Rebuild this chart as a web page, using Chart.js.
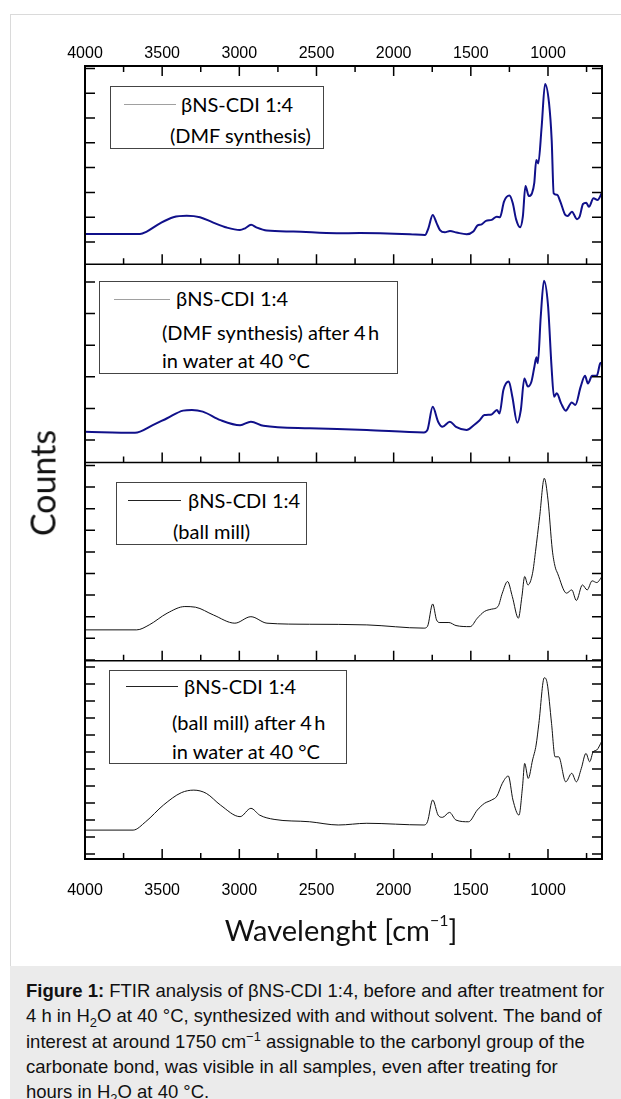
<!DOCTYPE html>
<html>
<head>
<meta charset="utf-8">
<script src="https://cdn.jsdelivr.net/npm/chart.js@4"></script>
<style>
  body { margin: 0; width: 621px; height: 1099px; position: relative; overflow: hidden; background: #fff; font-family: "Liberation Sans", Arial, sans-serif; }
  #frame { position: absolute; left: 10px; top: 14px; width: 620px; height: 952px; border-left: 1px solid #dadada; border-top: 1px solid #dadada; }
  #chart { position: absolute; left: 0; top: 0; }
  .legend { position: absolute; border: 1px solid #444; background: #fff; font-family: Lato, sans-serif; font-size: 20px; color: #000; }
  .legend .sample { position: absolute; height: 0; border-top: 1px solid #a0a0a0; }
  .legend .dark { border-top-color: #222; }
  .legend span { position: absolute; white-space: nowrap; line-height: 24px; }
  .title { position: absolute; font-family: Lato, sans-serif; color: #111; white-space: nowrap; transform: translate(-50%, -50%); }
  .title sup { font-size: 0.55em; vertical-align: 0.9em; line-height: 0; }
  #caption { position: absolute; left: 10px; top: 966px; width: 595px; height: 121px; padding: 12px 0 0 16px; background: #ebebeb; font-size: 18.5px; line-height: 25.3px; color: #111; white-space: nowrap; }
  #caption sub, #caption sup { font-size: 0.7em; line-height: 0; }
</style>
</head>
<body>
<div id="frame"></div>
<canvas id="chart" width="621" height="960"></canvas>

<div class="legend" style="left:110px;top:86px;width:212px;height:61px">
  <div class="sample" style="left:13px;top:17px;width:52px"></div>
  <span style="left:70px;top:5px">βNS-CDI 1:4</span>
  <span style="left:59px;top:36px">(DMF synthesis)</span>
</div>
<div class="legend" style="left:99px;top:281px;width:297px;height:91px">
  <div class="sample" style="left:14px;top:17px;width:56px"></div>
  <span style="left:76px;top:4px">βNS-CDI 1:4</span>
  <span style="left:62px;top:38px">(DMF synthesis) after 4&#8201;h</span>
  <span style="left:62px;top:66px">in water at 40 °C</span>
</div>
<div class="legend" style="left:116px;top:482px;width:189px;height:61px">
  <div class="sample dark" style="left:11px;top:17px;width:53px"></div>
  <span style="left:71px;top:5px">βNS-CDI 1:4</span>
  <span style="left:56px;top:36px">(ball mill)</span>
</div>
<div class="legend" style="left:109px;top:670px;width:236px;height:92px">
  <div class="sample dark" style="left:16px;top:15px;width:52px"></div>
  <span style="left:74px;top:3px">βNS-CDI 1:4</span>
  <span style="left:62px;top:39px">(ball mill) after 4&#8201;h</span>
  <span style="left:62px;top:68px">in water at 40 °C</span>
</div>

<div class="title" style="left:42px;top:483px;font-size:34px;transform:translate(-50%,-50%) rotate(-90deg)">Counts</div>
<div class="title" style="left:341px;top:929px;font-size:29px">Wavelenght [cm<sup>−1</sup>]</div>

<div id="caption"><b>Figure 1:</b> FTIR analysis of βNS-CDI 1:4, before and after treatment for<br>4 h in H<sub>2</sub>O at 40 °C, synthesized with and without solvent. The band of<br>interest at around 1750 cm<sup>−1</sup> assignable to the carbonyl group of the<br>carbonate bond, was visible in all samples, even after treating for<br>hours in H<sub>2</sub>O at 40 °C.</div>

<script>
// x axis (wavenumber, cm-1)
const X_TICK_LABELS = [4000, 3500, 3000, 2500, 2000, 1500, 1000]
const X_MINOR_TICKS = [3750, 3250, 2750, 2250, 1750, 1250, 750]

// DMF synthesis
const dmfWavenumbers = [4000, 3644, 3600, 3514, 3428, 3341, 3255, 3169, 3082, 2996, 2963, 2924, 2887, 2822, 2650, 2369, 2218, 2088, 1894, 1797, 1775, 1747, 1721, 1700, 1668, 1635, 1592, 1527, 1484, 1458, 1430, 1402, 1365, 1332, 1311, 1285, 1250, 1228, 1207, 1181, 1163, 1146, 1124, 1104, 1089, 1076, 1063, 1041, 1019, 993, 976, 963, 941, 920, 888, 873, 845, 812, 795, 773, 752, 735, 705, 679, 650]
const dmfCounts = [0.32, 0.32, 0.42, 0.75, 1.00, 1.06, 1.00, 0.78, 0.58, 0.48, 0.55, 0.69, 0.58, 0.46, 0.42, 0.35, 0.36, 0.35, 0.31, 0.28, 0.55, 1.09, 0.75, 0.48, 0.39, 0.44, 0.38, 0.31, 0.42, 0.66, 0.71, 0.85, 0.89, 1.02, 1.00, 1.63, 1.87, 1.56, 0.92, 0.59, 1.02, 2.26, 1.85, 1.96, 2.37, 3.31, 3.17, 4.65, 6.37, 5.59, 4.11, 1.96, 1.90, 1.63, 1.09, 1.05, 1.22, 0.92, 1.02, 1.53, 1.58, 1.42, 1.76, 1.69, 1.99]

// DMF synthesis, after 4 h in water at 40 °C
const dmfWaterWavenumbers = [4000, 3676, 3561, 3468, 3364, 3307, 3237, 3122, 2995, 2925, 2844, 2544, 2174, 1804, 1781, 1747, 1712, 1684, 1636, 1596, 1527, 1481, 1446, 1412, 1365, 1331, 1314, 1289, 1254, 1231, 1199, 1176, 1153, 1130, 1107, 1088, 1075, 1066, 1047, 1026, 1000, 977, 961, 943, 915, 885, 846, 823, 788, 760, 741, 714, 684, 661, 650]
const dmfWaterCounts = [0.26, 0.23, 0.47, 0.69, 0.93, 0.95, 0.90, 0.63, 0.47, 0.58, 0.45, 0.37, 0.32, 0.24, 0.32, 1.05, 0.58, 0.42, 0.58, 0.42, 0.32, 0.47, 0.61, 0.79, 0.81, 0.95, 0.84, 1.58, 1.85, 1.37, 0.55, 0.95, 1.95, 1.69, 1.85, 2.32, 2.62, 2.43, 3.90, 5.04, 4.27, 2.32, 1.37, 1.48, 1.16, 0.93, 1.19, 1.11, 1.69, 2.03, 1.79, 2.03, 2.03, 2.43, 2.45]

// ball mill
const millWavenumbers = [4000, 3665, 3584, 3468, 3353, 3284, 3168, 3029, 2925, 2821, 2544, 2174, 1804, 1781, 1747, 1722, 1700, 1642, 1596, 1504, 1458, 1412, 1365, 1324, 1296, 1262, 1231, 1192, 1169, 1151, 1130, 1100, 1081, 1054, 1024, 1000, 972, 954, 938, 880, 846, 816, 777, 746, 714, 684, 650]
const millCounts = [1.39, 1.39, 1.62, 2.16, 2.47, 2.44, 2.08, 1.70, 2.00, 1.70, 1.65, 1.62, 1.47, 1.55, 2.59, 1.85, 1.73, 1.73, 1.59, 1.54, 1.93, 2.24, 2.35, 2.47, 3.09, 3.63, 2.93, 1.93, 2.93, 3.86, 3.47, 4.01, 5.01, 6.63, 8.41, 7.41, 5.09, 4.32, 4.01, 3.09, 3.24, 2.75, 3.47, 3.24, 3.66, 3.58, 3.86]

// ball mill, after 4 h in water at 40 °C
const millWaterWavenumbers = [4000, 3688, 3607, 3492, 3376, 3295, 3214, 3122, 2995, 2925, 2868, 2775, 2544, 2359, 2174, 1804, 1781, 1747, 1712, 1684, 1638, 1596, 1515, 1458, 1412, 1365, 1331, 1296, 1257, 1227, 1188, 1165, 1151, 1128, 1100, 1077, 1059, 1024, 1005, 977, 954, 931, 885, 846, 816, 784, 754, 730, 707, 684, 650]
const millWaterCounts = [1.41, 1.41, 1.90, 2.88, 3.61, 3.76, 3.57, 2.88, 2.20, 2.69, 2.29, 2.04, 1.90, 1.71, 1.81, 1.71, 1.90, 3.18, 2.29, 2.16, 2.45, 2.00, 1.90, 2.59, 2.98, 3.18, 3.41, 4.16, 4.59, 3.18, 2.29, 3.96, 5.33, 4.45, 5.53, 6.41, 7.69, 10.37, 10.04, 7.69, 5.72, 5.72, 4.25, 4.75, 4.25, 5.04, 5.92, 5.43, 6.02, 6.12, 6.66]

// one stacked y axis per panel, top to bottom
const PANEL_IDS = ["yDmf", "yDmfWater", "yMill", "yMillWater"]
const PANEL_MIN = [-0.9, -0.71, -0.04, -0.29]
const PANEL_MAX = [7.1, 5.56, 9.14, 11.37]

const NAVY = "#10108a"

function toPoints(xs, ys) {
  return xs.map((x, i) => ({ x, y: ys[i] }))
}

function makeDataset(xs, ys, axisId, color, width) {
  return {
    data: toPoints(xs, ys),
    yAxisID: axisId,
    borderColor: color,
    borderWidth: width,
    pointRadius: 0,
    cubicInterpolationMode: "monotone",
    fill: false,
  }
}

// frame, separators and inward ticks
const axisFrame = {
  id: "axisFrame",
  afterDraw(chart) {
    const { ctx, chartArea: area, scales } = chart
    const xs = scales.x
    const allTicks = X_TICK_LABELS.concat(X_MINOR_TICKS).filter((v) => v < 4000)
    ctx.save()
    ctx.strokeStyle = "#000"
    ctx.lineWidth = 1.5
    ctx.beginPath()
    const seg = (x1, y1, x2, y2) => {
      ctx.moveTo(x1, y1)
      ctx.lineTo(x2, y2)
    }
    allTicks.forEach((v) => {
      const x = xs.getPixelForValue(v)
      const len = v % 500 === 0 ? 10 : 6
      seg(x, area.top, x, area.top + len)
    })
    PANEL_IDS.forEach((id) => {
      const ys = scales[id]
      seg(area.left, ys.bottom, area.right, ys.bottom)
      allTicks.forEach((v) => {
        const x = xs.getPixelForValue(v)
        const len = v % 500 === 0 ? 10 : 6
        seg(x, ys.bottom, x, ys.bottom - len)
      })
      for (let k = Math.ceil(ys.min); k <= Math.floor(ys.max); k++) {
        const y = ys.getPixelForValue(k)
        seg(area.left, y, area.left + 10, y)
        seg(area.right, y, area.right - 10, y)
      }
    })
    ctx.stroke()
    ctx.lineWidth = 2
    ctx.strokeRect(area.left, area.top, area.right - area.left, area.bottom - area.top)
    ctx.restore()
  },
}

const xAxisBase = {
  type: "linear",
  min: 650,
  max: 4000,
  reverse: true,
  grid: { display: false, drawTicks: false },
  border: { display: false },
  afterBuildTicks: (scale) => {
    scale.ticks = X_TICK_LABELS.map((v) => ({ value: v }))
  },
}

const yScales = {}
PANEL_IDS.forEach((id, i) => {
  yScales[id] = {
    type: "linear",
    position: "left",
    stack: "panels",
    stackWeight: 1,
    weight: PANEL_IDS.length - i,
    display: false,
    min: PANEL_MIN[i],
    max: PANEL_MAX[i],
  }
})

new Chart(document.getElementById("chart"), {
  type: "line",
  data: {
    datasets: [
      makeDataset(dmfWavenumbers, dmfCounts, "yDmf", NAVY, 2),
      makeDataset(dmfWaterWavenumbers, dmfWaterCounts, "yDmfWater", NAVY, 2),
      makeDataset(millWavenumbers, millCounts, "yMill", "#111", 1),
      makeDataset(millWaterWavenumbers, millWaterCounts, "yMillWater", "#111", 1),
    ],
  },
  options: {
    responsive: false,
    animation: false,
    layout: { padding: { left: 85, right: 19, top: 30, bottom: 61 } },
    plugins: { legend: { display: false }, tooltip: { enabled: false } },
    scales: {
      x: {
        ...xAxisBase,
        position: "bottom",
        ticks: { color: "#000", font: { family: "Liberation Sans", size: 16 }, padding: 22, maxRotation: 0, autoSkip: false, callback: (v) => String(v) },
        afterFit: (scale) => { scale.height = 40 },
      },
      xTop: {
        ...xAxisBase,
        position: "top",
        ticks: { color: "#000", font: { family: "Liberation Sans", size: 16 }, padding: 3, maxRotation: 0, autoSkip: false, callback: (v) => String(v) },
        afterFit: (scale) => { scale.height = 36 },
      },
      ...yScales,
    },
  },
  plugins: [axisFrame],
})
</script>
</body>
</html>
